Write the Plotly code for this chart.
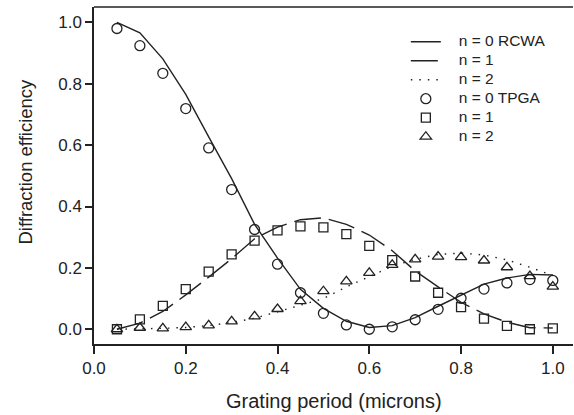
import plotly.graph_objects as go

# Grating period (microns)
period = [0.05, 0.10, 0.15, 0.20, 0.25, 0.30, 0.35, 0.40, 0.45, 0.50,
          0.55, 0.60, 0.65, 0.70, 0.75, 0.80, 0.85, 0.90, 0.95, 1.00]

# RCWA curves
rcwa_n0 = [1.000, 0.966, 0.881, 0.765, 0.627, 0.491, 0.342, 0.232, 0.130, 0.068,
           0.026, 0.006, 0.012, 0.038, 0.075, 0.112, 0.147, 0.167, 0.179, 0.177]
rcwa_n1 = [0.000, 0.020, 0.058, 0.112, 0.170, 0.230, 0.295, 0.333, 0.357, 0.363,
           0.342, 0.307, 0.256, 0.190, 0.138, 0.088, 0.050, 0.023, 0.005, 0.004]
rcwa_n2 = [0.000, 0.001, 0.003, 0.006, 0.012, 0.022, 0.036, 0.057, 0.078, 0.100,
           0.138, 0.172, 0.205, 0.228, 0.244, 0.248, 0.242, 0.226, 0.202, 0.175]

# TPGA points
tpga_n0 = [0.980, 0.924, 0.834, 0.719, 0.591, 0.455, 0.325, 0.212, 0.119, 0.052,
           0.014, 0.000, 0.008, 0.031, 0.065, 0.101, 0.131, 0.151, 0.162, 0.159]
tpga_n1 = [0.000, 0.032, 0.076, 0.131, 0.188, 0.244, 0.289, 0.322, 0.335, 0.332,
           0.310, 0.272, 0.225, 0.172, 0.119, 0.072, 0.035, 0.011, 0.000, 0.003]
tpga_n2 = [0.000, 0.005, 0.003, 0.007, 0.013, 0.026, 0.042, 0.066, 0.092, 0.124,
           0.156, 0.184, 0.210, 0.228, 0.237, 0.235, 0.224, 0.202, 0.173, 0.139]

tick_vals = [0, 0.2, 0.4, 0.6, 0.8, 1.0]
tick_text = ['0.0', '0.2', '0.4', '0.6', '0.8', '1.0']

ink = '#222222'
font = 'Liberation Sans, Arial, sans-serif'


def label(s):
    # bigger text than the legend row height, shifted right of the symbol
    return '<span style="font-size:15.5px">&nbsp;&nbsp;&nbsp;' + s + '</span>'


fig = go.Figure()

# lines
fig.add_trace(go.Scatter(x=period, y=rcwa_n0, mode='lines', name=label('n = 0 RCWA'),
                         line=dict(color=ink, width=1.4)))
fig.add_trace(go.Scatter(x=period, y=rcwa_n1, mode='lines', name=label('n = 1'),
                         line=dict(color=ink, width=1.4, dash='27px,8px')))
fig.add_trace(go.Scatter(x=period, y=rcwa_n2, mode='lines', name=label('n = 2'),
                         line=dict(color=ink, width=1.4, dash='1.5px,7px')))

# markers
mk = dict(color=ink, line=dict(color=ink, width=1.3))
fig.add_trace(go.Scatter(x=period, y=tpga_n0, mode='markers', name=label('n = 0 TPGA'),
                         marker=dict(mk, symbol='circle-open', size=10)))
fig.add_trace(go.Scatter(x=period, y=tpga_n1, mode='markers', name=label('n = 1'),
                         marker=dict(mk, symbol='square-open', size=9)))
fig.add_trace(go.Scatter(x=period, y=tpga_n2, mode='markers', name=label('n = 2'),
                         marker=dict(mk, symbol='triangle-up-open', size=10)))

# axis titles as annotations
fig.add_annotation(text='Grating period (microns)', xref='paper', yref='paper',
                   x=0.5, y=-0.17, yanchor='middle', showarrow=False,
                   font=dict(size=20, color=ink, family=font))
fig.add_annotation(text='Diffraction efficiency', xref='paper', yref='paper',
                   x=-0.143, y=0.54, textangle=-90, xanchor='center', yanchor='middle',
                   showarrow=False, font=dict(size=18.5, color=ink, family=font))

# top frame line
fig.add_shape(type='line', xref='paper', yref='paper', x0=0, x1=1, y0=1, y1=1,
              line=dict(color=ink, width=1.5))

fig.update_layout(
    width=574, height=415,
    margin=dict(l=94, r=1, t=7, b=71),
    plot_bgcolor='white', paper_bgcolor='white',
    font=dict(family=font, color=ink, size=17),
    showlegend=True,
    legend=dict(x=0.651, y=0.94, xanchor='left', yanchor='top',
                bgcolor='rgba(0,0,0,0)', font=dict(size=12, color=ink),
                tracegroupgap=0, itemwidth=30),
)
fig.update_xaxes(range=[0, 1.044], tickvals=tick_vals, ticktext=tick_text,
                 showline=True, linecolor=ink, linewidth=1.5,
                 ticks='outside', ticklen=8, tickwidth=1.5, tickcolor=ink,
                 showgrid=False, zeroline=False)
fig.update_yaxes(range=[-0.048, 1.05], tickvals=tick_vals, ticktext=tick_text,
                 showline=True, linecolor=ink, linewidth=1.5,
                 ticks='outside', ticklen=7, tickwidth=1.5, tickcolor=ink,
                 showgrid=False, zeroline=False)

fig.write_html("out.html", config={'displayModeBar': False},
               post_script="document.body.style.margin='0';")
